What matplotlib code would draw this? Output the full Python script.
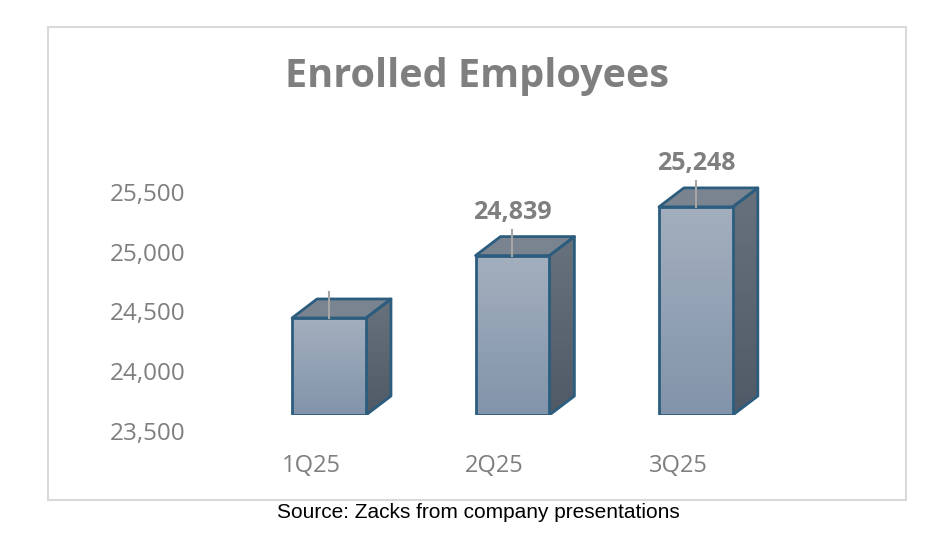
import numpy as np
import matplotlib.pyplot as plt
from matplotlib.patches import Polygon, Rectangle
from matplotlib.colors import LinearSegmentedColormap
import matplotlib.transforms as mtransforms

quarters = ['1Q25', '2Q25', '3Q25']
employees = [24315, 24839, 25248]
show_label = [False, True, True]
yticks = [23500, 24000, 24500, 25000, 25500]
title = 'Enrolled Employees'
source = 'Source: Zacks from company presentations'

base = 23500
units_per_px = 8.4
bar_w = 0.403
dx = 0.136           # depth in x units
dy = 19 * units_per_px  # depth in y units

edge_col = '#2d5d7e'
gray = '#7f7f7f'

front_cmap = LinearSegmentedColormap.from_list('front', ['#8294aa', '#a3afbe'])
side_cmap = LinearSegmentedColormap.from_list('side', ['#4f5a66', '#68727d'])
grad = np.linspace(0, 1, 256).reshape(-1, 1)

fig = plt.figure(figsize=(9.4, 5.36), dpi=100)

# outer border
fig.patches.append(Rectangle((48 / 940, 36 / 536), 858 / 940, 473 / 536,
                             transform=fig.transFigure, fill=False,
                             edgecolor='#d9d9d9', linewidth=1.5))

ax = fig.add_axes([219 / 940, 121 / 536, 642 / 940, 300 / 536])
ax.set_xlim(-0.6, 2.9)
ax.set_ylim(base, base + 300 * units_per_px)

for i, v in enumerate(employees):
    x0, x1 = i - bar_w / 2, i + bar_w / 2
    # side face
    side = Polygon([(x1, base), (x1 + dx, base + dy), (x1 + dx, v + dy), (x1, v)],
                   closed=True, facecolor='none', edgecolor='none')
    ax.add_patch(side)
    im = ax.imshow(grad, extent=[x1, x1 + dx, base, v + dy], origin='lower',
                   aspect='auto', cmap=side_cmap, zorder=2)
    im.set_clip_path(side)
    # top face
    top = Polygon([(x0, v), (x0 + dx, v + dy), (x1 + dx, v + dy), (x1, v)],
                  closed=True, facecolor='#7a8390', edgecolor=edge_col,
                  linewidth=2, joinstyle='round', zorder=3)
    ax.add_patch(top)
    ax.add_patch(Polygon([(x1, base), (x1 + dx, base + dy), (x1 + dx, v + dy), (x1, v)],
                         closed=True, fill=False, edgecolor=edge_col,
                         linewidth=2, joinstyle='round', zorder=3))
    # front face
    front = Rectangle((x0, base), bar_w, v - base, facecolor='none', edgecolor='none')
    ax.add_patch(front)
    im = ax.imshow(grad, extent=[x0, x1, base, v], origin='lower',
                   aspect='auto', cmap=front_cmap, zorder=4)
    im.set_clip_path(front)
    ax.add_patch(Rectangle((x0, base), bar_w, v - base, fill=False,
                           edgecolor=edge_col, linewidth=2, zorder=5))
    # leader line + label
    ax.plot([i, i], [v, v + 26 * units_per_px], color='#a6a6a6', lw=1.5, zorder=6)
    if show_label[i]:
        ax.text(i, v + 43 * units_per_px, f'{v:,}', ha='center', va='center',
                fontsize=18, fontweight='bold', color=gray, family='Open Sans')

ax.set_xlim(-0.6, 2.9)
ax.set_ylim(base, base + 300 * units_per_px)

ax.set_yticks(yticks)
ax.set_yticklabels([f'{t:,}' for t in yticks])
ax.set_xticks(range(len(quarters)))
ax.set_xticklabels(quarters)
ax.tick_params(axis='y', length=0, pad=24, labelsize=17.5, labelcolor=gray)
ax.tick_params(axis='x', length=0, pad=28, labelsize=17, labelcolor=gray)
for lab in ax.get_yticklabels() + ax.get_xticklabels():
    lab.set_family('Open Sans')

shift_y = mtransforms.ScaledTranslation(0, -0.155, fig.dpi_scale_trans)
for lab in ax.get_yticklabels():
    lab.set_transform(lab.get_transform() + shift_y)
shift_x = mtransforms.ScaledTranslation(-0.18, 0, fig.dpi_scale_trans)
for lab in ax.get_xticklabels():
    lab.set_transform(lab.get_transform() + shift_x)

for s in ax.spines.values():
    s.set_visible(False)
ax.patch.set_visible(False)

fig.text(477 / 940, 1 - 76 / 536, title, ha='center', va='center',
         fontsize=28.5, fontweight='bold', color=gray, family='Open Sans')
fig.text(478 / 940, 1 - 513 / 536, source, ha='center', va='center',
         fontsize=15, color='black', family='Liberation Sans')

fig.savefig('out.png', dpi=100, facecolor='white')
